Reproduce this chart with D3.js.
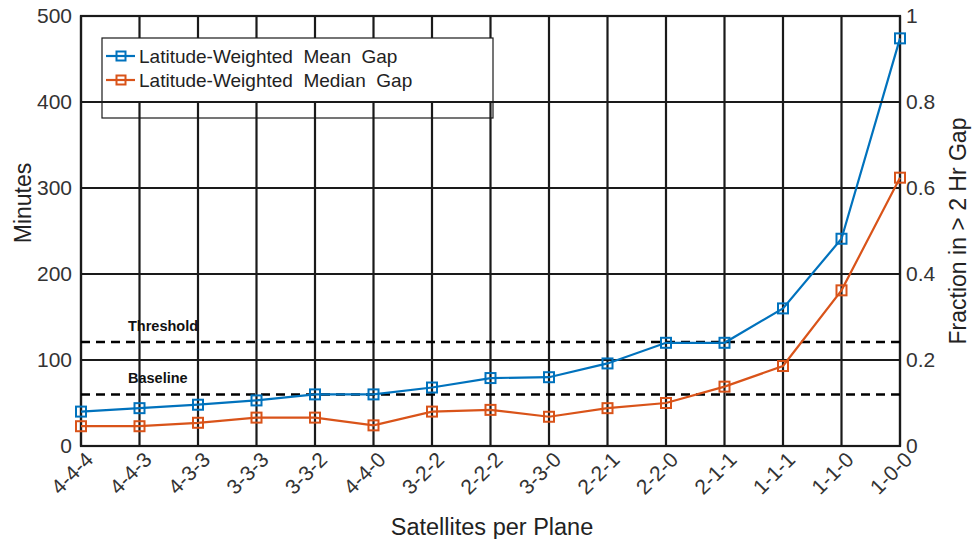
<!DOCTYPE html>
<html><head><meta charset="utf-8">
<script src="https://cdn.jsdelivr.net/npm/d3@7"></script>
<style>body{margin:0;background:#fff;} text{font-family:"Liberation Sans",Arial,sans-serif;}</style>
</head><body><svg id="c" width="973" height="539"></svg>
<script>
const categories = ["4-4-4","4-4-3","4-3-3","3-3-3","3-3-2","4-4-0","3-2-2","2-2-2","3-3-0","2-2-1","2-2-0","2-1-1","1-1-1","1-1-0","1-0-0"];
const meanGap = [40,44,48,53,60,60,68,79,80,96,120,120,160,241,474];
const medianGap = [23,23,27,33,33,24,40,42,34,44,50,69,93,181,312];
const seriesNames = ["Latitude-Weighted  Mean  Gap","Latitude-Weighted  Median  Gap"];
const leftTicks = [0,100,200,300,400,500];
const rightTicks = [0,0.2,0.4,0.6,0.8,1];
const rightTickLabels = ["0","0.2","0.4","0.6","0.8","1"];
const refLines = [{name:"Threshold", value:121},{name:"Baseline", value:60}];
const colors = ["#0072BD","#D95319"];

const svg = d3.select("#c");
const L=81, R=900, T=16, B=446;
const x = d3.scalePoint().domain(categories).range([L,R]);
const y = d3.scaleLinear().domain([0,500]).range([B,T]);
const y2 = d3.scaleLinear().domain([0,1]).range([B,T]);

const grid = svg.append("g");
grid.selectAll("line.v").data(categories).join("line")
  .attr("x1",d=>x(d)).attr("x2",d=>x(d)).attr("y1",T).attr("y2",B)
  .attr("stroke","#1a1a1a").attr("stroke-width",2.2);
grid.selectAll("line.h").data(leftTicks).join("line")
  .attr("x1",L).attr("x2",R).attr("y1",d=>y(d)).attr("y2",d=>y(d))
  .attr("stroke","#1a1a1a").attr("stroke-width",2.2);

// axes
const ax = svg.append("g").attr("transform",`translate(${L-4},0)`)
  .call(d3.axisLeft(y).tickValues(leftTicks).tickSize(0).tickPadding(5));
ax.select(".domain").remove();
ax.selectAll("text").attr("font-size",21).attr("fill","#333")
  .attr("font-family","Liberation Sans, Arial, sans-serif");
const ax2 = svg.append("g").attr("transform",`translate(${R+4},0)`)
  .call(d3.axisRight(y2).tickValues(rightTicks).tickSize(0).tickPadding(2).tickFormat((d,i)=>rightTickLabels[i]));
ax2.select(".domain").remove();
ax2.selectAll("text").attr("font-size",21).attr("fill","#333")
  .attr("font-family","Liberation Sans, Arial, sans-serif");
const axb = svg.append("g").attr("transform",`translate(0,${B})`)
  .call(d3.axisBottom(x).tickSize(0).tickPadding(0));
axb.select(".domain").remove();
axb.selectAll("text").attr("font-size",21).attr("fill","#333")
  .attr("font-family","Liberation Sans, Arial, sans-serif")
  .attr("text-anchor","end").attr("dy",null).attr("y",0)
  .attr("transform","translate(13,15) rotate(-45)");

// frame
svg.append("rect").attr("x",L).attr("y",T).attr("width",R-L).attr("height",B-T)
  .attr("fill","none").attr("stroke","#1a1a1a").attr("stroke-width",2.2);

// reference lines
svg.selectAll("line.ref").data(refLines).join("line")
  .attr("x1",L).attr("x2",R).attr("y1",d=>y(d.value)).attr("y2",d=>y(d.value))
  .attr("stroke","#000").attr("stroke-width",2.5).attr("stroke-dasharray","9,6");
svg.selectAll("text.ref").data(refLines).join("text")
  .attr("x",128).attr("y",d=>y(d.value)-11).text(d=>d.name)
  .attr("font-size",14.5).attr("font-weight","bold").attr("fill","#111");

// series
const allSeries = [meanGap, medianGap];
const line = d3.line().x((d,i)=>x(categories[i])).y(d=>y(d));
allSeries.forEach((s,k)=>{
  svg.append("path").datum(s).attr("d",line).attr("fill","none")
    .attr("stroke",colors[k]).attr("stroke-width",2.2);
  const g = svg.append("g");
  g.selectAll("rect").data(s).join("rect")
    .attr("x",(d,i)=>x(categories[i])-5).attr("y",d=>y(d)-5)
    .attr("width",10).attr("height",10).attr("fill","none")
    .attr("stroke",colors[k]).attr("stroke-width",2);
});

// legend
const lg = svg.append("g");
lg.append("rect").attr("x",102).attr("y",38).attr("width",391).attr("height",63).attr("fill","#fff");
lg.append("rect").attr("x",102).attr("y",38).attr("width",391).attr("height",80)
  .attr("fill","none").attr("stroke","#1a1a1a").attr("stroke-width",1.2);
svg.append("line").attr("x1",L).attr("x2",R).attr("y1",y(400)).attr("y2",y(400))
  .attr("stroke","#1a1a1a").attr("stroke-width",2.2);
seriesNames.forEach((n,k)=>{
  const yy = 56 + k*24;
  lg.append("line").attr("x1",106).attr("x2",135).attr("y1",yy).attr("y2",yy)
    .attr("stroke",colors[k]).attr("stroke-width",2.2);
  lg.append("rect").attr("x",116.5).attr("y",yy-4.5).attr("width",9).attr("height",9)
    .attr("fill","none").attr("stroke",colors[k]).attr("stroke-width",2);
  lg.append("text").attr("x",139).attr("y",yy+7).text(n)
    .attr("font-size",19).attr("fill","#222").style("white-space","pre");
});

// titles
svg.append("text").attr("transform","translate(31,203) rotate(-90)")
  .attr("text-anchor","middle").attr("font-size",23).attr("fill","#222").text("Minutes");
svg.append("text").attr("transform","translate(966,231) rotate(-90)")
  .attr("text-anchor","middle").attr("font-size",23).attr("fill","#222").text("Fraction in > 2 Hr Gap");
svg.append("text").attr("x",492).attr("y",535)
  .attr("text-anchor","middle").attr("font-size",23.5).attr("fill","#222").text("Satellites per Plane");
</script></body></html>
